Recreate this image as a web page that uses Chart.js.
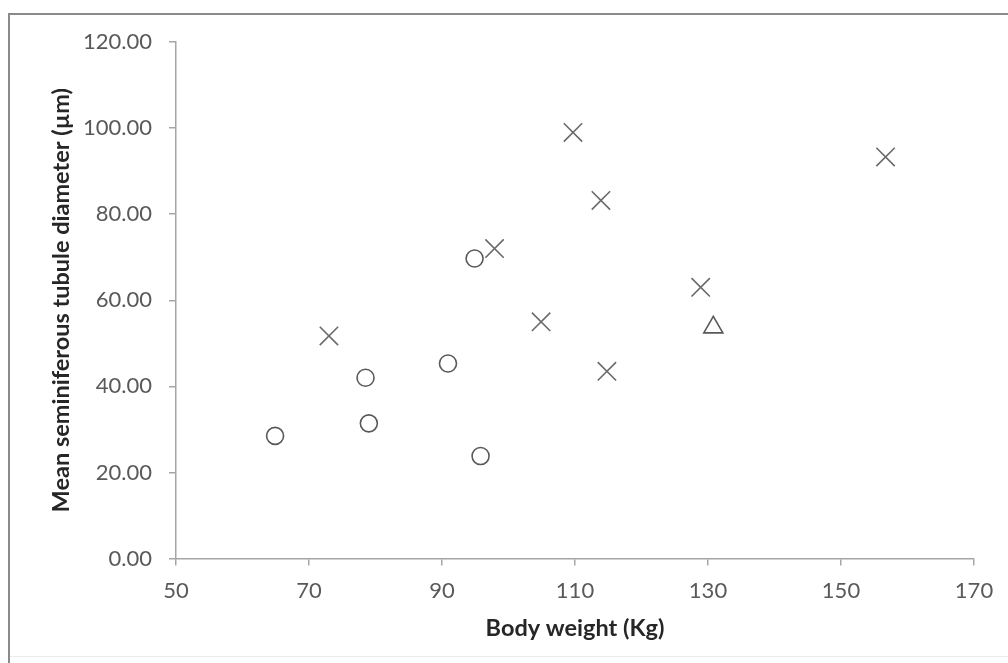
<!DOCTYPE html>
<html>
<head>
<meta charset="utf-8">
<script src="https://cdn.jsdelivr.net/npm/chart.js@4/dist/chart.umd.min.js"></script>
<style>
  html, body { margin: 0; padding: 0; background: #ffffff; }
  #chart { display: block; }
</style>
</head>
<body>
<canvas id="chart" width="1008" height="663"></canvas>
<script>
//Circle group (body weight, tubule diameter)
const circleWeight = [64.9, 78.5, 79.0, 90.9, 94.9, 95.8];
const circleDiameter = [28.5, 42.0, 31.4, 45.3, 69.7, 23.8];
//Cross group
const crossWeight = [73.0, 97.9, 104.9, 109.7, 113.9, 114.8, 128.9, 156.7];
const crossDiameter = [51.7, 72.0, 55.0, 99.0, 83.2, 43.5, 63.0, 93.3];
//Triangle group
const triangleWeight = [130.8];
const triangleDiameter = [53.7];

const xTitle = "Body weight (Kg)";
const yTitle = "Mean seminiferous tubule diameter (µm)";

const toPoints = (xs, ys) => xs.map((x, i) => ({ x: x, y: ys[i] }));

const markerColor = "#595959";
const fontFamily = "Lato, 'Open Sans', sans-serif";

//draws the grey frame round the picture
const framePlugin = {
  id: "frame",
  beforeDraw(chart) {
    const ctx = chart.ctx;
    ctx.save();
    ctx.strokeStyle = "#8a8a8a";
    ctx.lineWidth = 2;
    ctx.beginPath();
    ctx.moveTo(9, 663);
    ctx.lineTo(9, 14);
    ctx.lineTo(1008, 14);
    ctx.stroke();
    ctx.strokeStyle = "#ececec";
    ctx.lineWidth = 1;
    ctx.beginPath();
    ctx.moveTo(10, 656.5);
    ctx.lineTo(1008, 656.5);
    ctx.stroke();
    ctx.restore();
  },
};

let myChart = new Chart(document.getElementById("chart"), {
  type: "scatter",
  plugins: [framePlugin],
  data: {
    datasets: [
      {
        data: toPoints(circleWeight, circleDiameter),
        pointStyle: "circle",
        pointRadius: 8.5,
        pointBorderWidth: 1.6,
        pointBorderColor: markerColor,
        pointBackgroundColor: "rgba(0,0,0,0)",
      },
      {
        data: toPoints(crossWeight, crossDiameter),
        pointStyle: "crossRot",
        pointRadius: 13,
        pointBorderWidth: 1.6,
        pointBorderColor: "#6a6a6a",
        pointBackgroundColor: "rgba(0,0,0,0)",
      },
      {
        data: toPoints(triangleWeight, triangleDiameter),
        pointStyle: "triangle",
        pointRadius: 11,
        pointBorderWidth: 1.6,
        pointBorderColor: markerColor,
        pointBackgroundColor: "rgba(0,0,0,0)",
      },
    ],
  },
  options: {
    responsive: false,
    animation: false,
    layout: { padding: { left: 0, right: 34, top: 42, bottom: 0 } },
    plugins: {
      legend: { display: false },
      tooltip: { enabled: false },
    },
    scales: {
      x: {
        type: "linear",
        min: 50,
        max: 170,
        afterFit: (scale) => { scale.height = 104.5; },
        border: { color: "#a6a6a6", width: 1.5 },
        grid: { drawOnChartArea: false, tickLength: 7, color: "#a6a6a6", lineWidth: 1.5 },
        ticks: {
          stepSize: 20,
          padding: 12,
          color: "#595959",
          font: { family: fontFamily, size: 22 },
          callback: (v) => v.toFixed(0),
        },
        title: {
          display: true,
          text: xTitle,
          color: "#262626",
          font: { family: fontFamily, size: 23.5, weight: "bold" },
          padding: { top: 0, bottom: 20 },
        },
      },
      y: {
        type: "linear",
        min: 0,
        max: 120,
        afterFit: (scale) => { scale.width = 176; },
        border: { color: "#a6a6a6", width: 1.5 },
        grid: { drawOnChartArea: false, tickLength: 7, color: "#a6a6a6", lineWidth: 1.5 },
        ticks: {
          stepSize: 20,
          padding: 17,
          color: "#595959",
          font: { family: fontFamily, size: 22 },
          callback: (v) => v.toFixed(2),
        },
        title: {
          display: true,
          text: yTitle,
          color: "#262626",
          font: { family: fontFamily, size: 23.5, weight: "bold" },
          padding: { top: 47, bottom: 0 },
        },
      },
    },
  },
});
</script>
</body>
</html>
